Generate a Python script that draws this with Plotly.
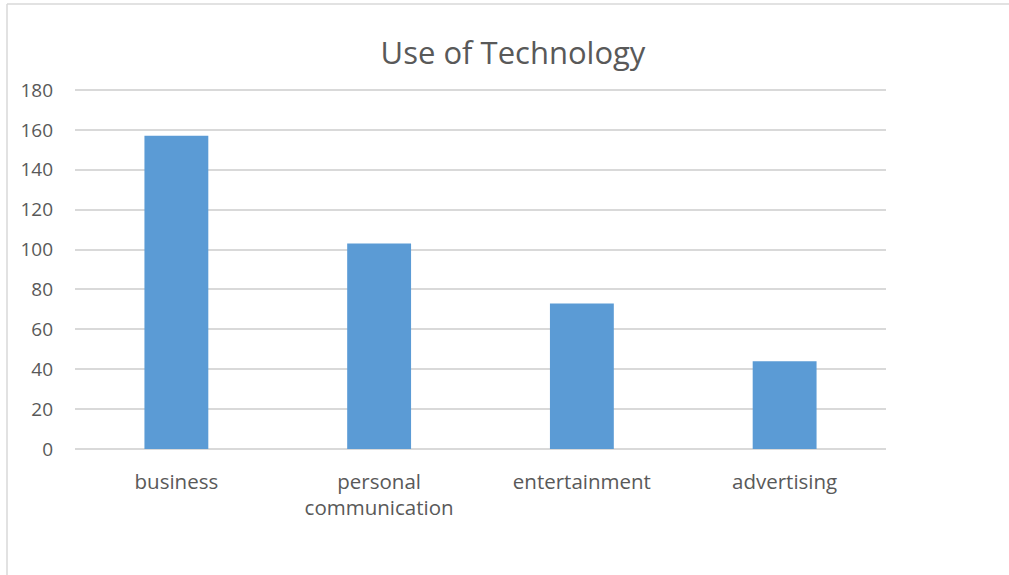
import plotly.graph_objects as go

categories = ["business", "personal<br>communication", "entertainment", "advertising"]
values = [157, 103, 73, 44]
y_ticks = [0, 20, 40, 60, 80, 100, 120, 140, 160, 180]

W, H = 1009, 575
L, R, T, B = 75, 123, 87, 126

fig = go.Figure(go.Bar(x=categories, y=values, marker_color="#5b9bd5",
                       marker_line_width=0, width=0.315))

pw = W - L - R
ph = H - T - B
line_col = "#d9d9d9"
fig.update_layout(
    width=W, height=H,
    margin=dict(l=L, r=R, t=T, b=B, pad=0),
    paper_bgcolor="white", plot_bgcolor="white",
    font=dict(family="'Open Sans', sans-serif", color="#595959", size=19),
    title=dict(text="Use of Technology", x=513 / W, xref="container", xanchor="center",
               y=1 - 53 / H, yref="container", yanchor="middle",
               font=dict(size=31, color="#595959")),
    showlegend=False,
    bargap=0.685,
    xaxis=dict(showgrid=False, showline=False, ticks="", ticklabelstandoff=18,
               tickfont=dict(size=20.5)),
    yaxis=dict(range=[0, 181.5], tickvals=y_ticks, showgrid=True, gridcolor=line_col,
               gridwidth=1.5, zeroline=True, zerolinecolor=line_col, zerolinewidth=1.5,
               showline=False, ticks="", ticklabelstandoff=21, tickfont=dict(size=19)),
    shapes=[
        dict(type="line", xref="paper", yref="paper",
             x0=(7 - L) / pw, x1=(W - L) / pw + 0.05, y0=(H - B - 4) / ph, y1=(H - B - 4) / ph,
             line=dict(color=line_col, width=1.5)),
        dict(type="line", xref="paper", yref="paper",
             x0=(7 - L) / pw, x1=(7 - L) / pw, y0=(H - B - 4) / ph, y1=-B / ph - 0.05,
             line=dict(color=line_col, width=1.5)),
    ],
)

fig.write_html("out.html")
